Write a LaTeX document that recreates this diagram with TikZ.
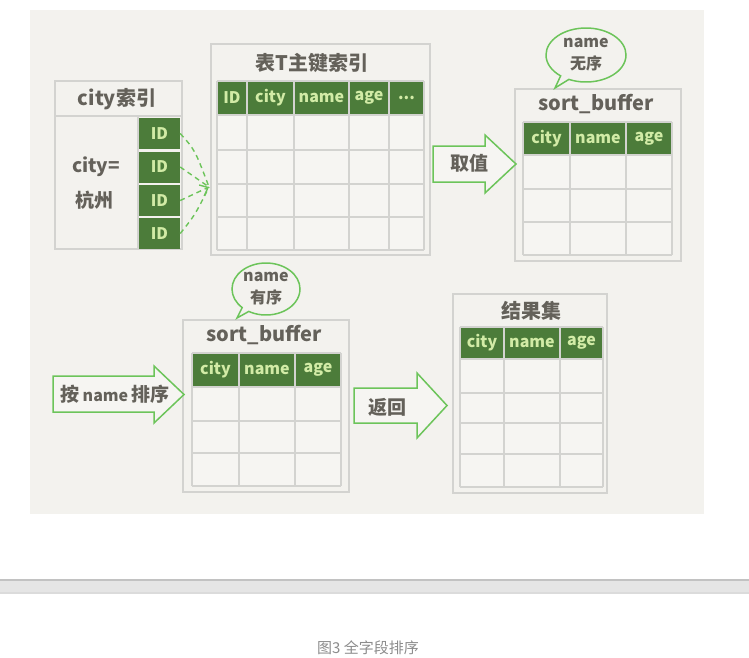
\documentclass[tikz,border=0pt]{standalone}
\usepackage{fontspec}
\setmainfont{Noto Sans CJK SC}
\usetikzlibrary{shapes.callouts,arrows.meta}
\definecolor{bgc}{HTML}{F3F2EE}
\definecolor{cellbg}{HTML}{F6F5F2}
\definecolor{gridc}{HTML}{D3D3D0}
\definecolor{hdrc}{HTML}{4C7C3A}
\definecolor{hdrtxt}{HTML}{D2EBA6}
\definecolor{txtc}{HTML}{64615A}
\definecolor{grn}{HTML}{6CC45A}
\definecolor{capc}{HTML}{8C8C8C}
\newcommand\myellip{...}
\tikzset{
  outerbox/.style={draw=gridc,line width=1.5pt,fill=bgc,inner sep=0pt},
  gridline/.style={draw=gridc,line width=1.5pt},
  hdrcell/.style={fill=hdrc,text=hdrtxt,inner sep=0pt,font=\fontsize{16}{16}\selectfont\bfseries},
  idcell/.style={fill=hdrc,text=hdrtxt,inner sep=0pt,font=\fontsize{16}{16}\selectfont\bfseries},
  titletxt/.style={text=txtc,inner sep=0pt,font=\fontsize{20}{20}\selectfont\bfseries},
  labeltxt/.style={text=txtc,inner sep=0pt,font=\fontsize{19}{19}\selectfont\bfseries},
  blockarrow/.style={draw=grn,line width=1.5pt,fill=cellbg,line join=miter},
  bubble/.style={ellipse callout,draw=grn,line width=1.5pt,fill=bgc,inner sep=0pt,
    text=txtc,align=center,font=\fontsize{16}{22}\selectfont\bfseries,callout pointer arc=14},
  dashlink/.style={draw=grn,line width=1.4pt,dash pattern=on 5pt off 4pt}
}
\begin{document}
\begin{tikzpicture}[x=1pt,y=-1pt]
\useasboundingbox (0,0) rectangle (749,657);
\fill[white] (0,0) rectangle (749,657);
\fill[bgc] (30,10) rectangle (704,514);
% page separator band
\fill[black!10] (0,579) rectangle (749,594);
\fill[black!24] (0,579) rectangle (749,581);
\fill[black!14] (0,592) rectangle (749,594);

% ---------------- city index ----------------
\node[outerbox,minimum width=127,minimum height=168] (cityidx) at (118.5,165) {};
\draw[gridline] (55,116) -- (182,116);
\draw[gridline] (138,116) -- (138,249);
\node[titletxt] (cityidxT) at (117,99) {city索引};
\node[labeltxt] (cityeq) at (96,167) {city=};
\node[labeltxt] (hz) at (94,200) {杭州};
\foreach \yy/\i in {133.5/1,167/2,200.5/3,233.5/4}
  \node[idcell,minimum width=41,minimum height=31] (id\i) at (159.5,\yy) {ID};

% ---------------- table T primary index ----------------
\node[outerbox,minimum width=219,minimum height=211] (tblT) at (320.5,149.5) {};
\node[titletxt] (tblTT) at (312,63) {表T主键索引};
\fill[cellbg] (217,81) rectangle (424,250);
\foreach \x in {217,247,294,349,389,424} \draw[gridline] (\x,81) -- (\x,250);
\foreach \y in {81,115,150,184,217,250} \draw[gridline] (217,\y) -- (424,\y);
\foreach \a/\b/\t [count=\i] in {217/247/ID,247/294/city,294/349/name,349/389/age,389/424/\myellip}
  \node[hdrcell,minimum width={\b-\a-2},minimum height=32] (T-h\i) at ({(\a+\b)/2},98) {\t};

% dashed links
\coordinate (conv) at (209,187);
\draw[dashlink] (id1.east) .. controls (195,150) .. (conv);
\draw[dashlink] (id2.east) -- (conv);
\draw[dashlink,-{Straight Barb[length=7pt,width=12pt]}] (id3.east) -- (conv);
\draw[dashlink] (id4.east) .. controls (195,215) .. (conv);

% ---------------- sort_buffer (top) ----------------
\node[outerbox,minimum width=166,minimum height=172] (sb1) at (598,175) {};
\node[titletxt] (sb1T) at (596,104) {sort\_buffer};
\fill[cellbg] (523,122) rectangle (672,255);
\foreach \x in {523,570,626,672} \draw[gridline] (\x,122) -- (\x,255);
\foreach \y in {122,155,189,222,255} \draw[gridline] (523,\y) -- (672,\y);
\foreach \a/\b/\t [count=\i] in {523/570/city,570/626/name,626/672/age}
  \node[hdrcell,minimum width={\b-\a-2},minimum height=31] (sb1-h\i) at ({(\a+\b)/2},138.5) {\t};
\node[bubble,minimum width=80,minimum height=54,callout absolute pointer={(555,88)}] (bub1) at (586,55) {name\\无序};

% arrow 取值
\draw[blockarrow] (433,146) -- (485,146) -- (485,135) -- (516,164) -- (485,193) -- (485,182) -- (433,182) -- cycle;
\node[labeltxt] (qz) at (469,163) {取值};

% ---------------- sort_buffer (bottom) ----------------
\node[outerbox,minimum width=166,minimum height=172] (sb2) at (266,406) {};
\node[titletxt] (sb2T) at (264,335) {sort\_buffer};
\fill[cellbg] (192,353) rectangle (341,486);
\foreach \x in {192,239,295,341} \draw[gridline] (\x,353) -- (\x,486);
\foreach \y in {353,387,421,453,486} \draw[gridline] (192,\y) -- (341,\y);
\foreach \a/\b/\t [count=\i] in {192/239/city,239/295/name,295/341/age}
  \node[hdrcell,minimum width={\b-\a-2},minimum height=32] (sb2-h\i) at ({(\a+\b)/2},370) {\t};
\node[bubble,minimum width=68,minimum height=52,callout absolute pointer={(237,318)}] (bub2) at (266,289) {name\\有序};

% arrow 按name 排序
\draw[blockarrow] (53,376) -- (154,376) -- (154,366) -- (184,394.5) -- (154,423) -- (154,412) -- (53,412) -- cycle;
\node[labeltxt] (anp) at (115,394) {按\,{\fontsize{16}{16}\selectfont name}\,排序};

% arrow 返回
\draw[blockarrow] (354,388) -- (417,388) -- (417,373) -- (447,405.5) -- (417,438) -- (417,423) -- (354,423) -- cycle;
\node[labeltxt] (fh) at (387,407) {返回};

% ---------------- result set ----------------
\node[outerbox,minimum width=154,minimum height=199] (res) at (530,393.5) {};
\node[titletxt] (resT) at (531,311) {结果集};
\fill[cellbg] (460,327) rectangle (603,487);
\foreach \x in {460,504,560,603} \draw[gridline] (\x,327) -- (\x,487);
\foreach \y in {327,359,393,423,454,487} \draw[gridline] (460,\y) -- (603,\y);
\foreach \a/\b/\t [count=\i] in {460/504/city,504/560/name,560/603/age}
  \node[hdrcell,minimum width={\b-\a-2},minimum height=30] (res-h\i) at ({(\a+\b)/2},343) {\t};

% caption
\node[text=capc,inner sep=0pt,font=\fontsize{15}{15}\selectfont] (cap) at (368,648) {图3 全字段排序};
\end{tikzpicture}
\end{document}
